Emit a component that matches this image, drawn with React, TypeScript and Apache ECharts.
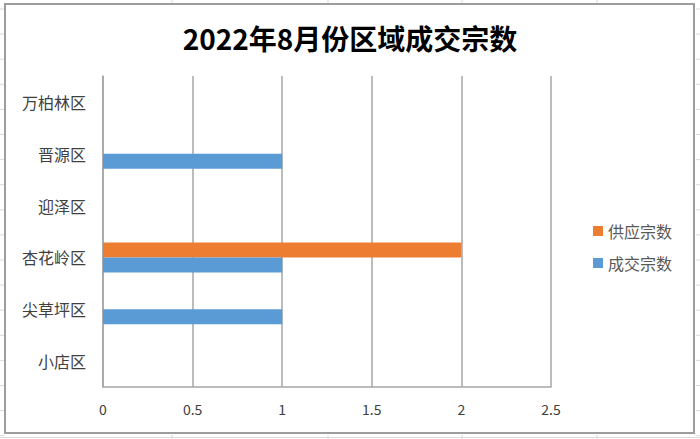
import React, { useEffect, useRef } from 'react';
import * as echarts from 'echarts';

// Categories from bottom to top (as ECharts draws a category y axis)
const districts = ['小店区', '尖草坪区', '杏花岭区', '迎泽区', '晋源区', '万柏林区'];
const supplyCounts = [null, null, 2, null, null, null]; // 供应宗数
const dealCounts = [null, 1, 1, null, 1, null]; // 成交宗数
const seriesNames = ['供应宗数', '成交宗数'];
const chartTitle = '2022年8月份区域成交宗数';

const FONT = '"Noto Sans CJK SC", "Noto Sans", sans-serif';
const GRID_GRAY = '#a6a6a6';
const TEXT_GRAY = '#595959';

// faint spreadsheet cell lines visible round the chart frame
const excelLines = () => {
	const lines: any[] = [];
	for (let k = 0; k < 18; k++) {
		const y = 9 + k * 25.1;
		lines.push({ type: 'line', shape: { x1: 0, y1: y, x2: 4, y2: y }, style: { stroke: '#dadada', lineWidth: 1 }, silent: true });
		lines.push({ type: 'line', shape: { x1: 696, y1: y, x2: 700, y2: y }, style: { stroke: '#dadada', lineWidth: 1 }, silent: true });
	}
	[172, 328, 462, 597].forEach(x => {
		lines.push({ type: 'line', shape: { x1: x, y1: 0, x2: x, y2: 3 }, style: { stroke: '#dadada', lineWidth: 1 }, silent: true });
		lines.push({ type: 'line', shape: { x1: x, y1: 435, x2: x, y2: 439 }, style: { stroke: '#dadada', lineWidth: 1 }, silent: true });
	});
	lines.push({ type: 'line', shape: { x1: 0, y1: 437.5, x2: 700, y2: 437.5 }, style: { stroke: '#dadada', lineWidth: 1 }, silent: true });
	return lines;
};

const App: React.FC = () => {
	const chartRef = useRef<HTMLDivElement>(null);

	useEffect(() => {
		if (!chartRef.current) return;
		const chart = echarts.init(chartRef.current, undefined, { renderer: 'svg' });

		const option: echarts.EChartsOption = {
			animation: false,
			backgroundColor: '#ffffff',
			title: {
				text: chartTitle,
				left: 'center',
				top: 19,
				textStyle: {
					color: '#000',
					fontSize: 28,
					fontWeight: 'bold',
					fontFamily: FONT
				}
			},
			legend: {
				orient: 'vertical',
				left: 588,
				top: 218,
				itemWidth: 10,
				itemHeight: 10,
				itemGap: 16,
				icon: 'rect',
				textStyle: { color: TEXT_GRAY, fontSize: 16, fontFamily: FONT },
				data: seriesNames
			},
			grid: {
				left: 103,
				right: 149,
				top: 76,
				bottom: 52,
				containLabel: false
			},
			xAxis: {
				type: 'value',
				min: 0,
				max: 2.5,
				interval: 0.5,
				axisLine: { show: true, lineStyle: { color: GRID_GRAY, width: 1.5 } },
				axisTick: { show: false },
				axisLabel: { color: '#404040', fontSize: 14, fontFamily: FONT, margin: 15 },
				splitLine: { show: true, lineStyle: { color: GRID_GRAY, width: 1.5 } }
			},
			yAxis: {
				type: 'category',
				data: districts,
				axisLine: { show: true, lineStyle: { color: GRID_GRAY, width: 1.5 } },
				axisTick: { show: false },
				axisLabel: { color: '#404040', fontSize: 16, fontFamily: FONT, margin: 17 }
			},
			series: [
				{
					name: seriesNames[0],
					type: 'bar',
					data: supplyCounts,
					barWidth: 15,
					barGap: '0%',
					itemStyle: { color: '#ed7d31' }
				},
				{
					name: seriesNames[1],
					type: 'bar',
					data: dealCounts,
					barWidth: 15,
					barGap: '0%',
					itemStyle: { color: '#5b9bd5' }
				}
			],
			graphic: [
				...excelLines(),
				{
					type: 'rect',
					shape: { x: 5, y: 4, width: 689, height: 429 },
					style: { fill: 'none', stroke: '#9d9d9d', lineWidth: 2 },
					silent: true
				}
			]
		};

		chart.setOption(option);

		return () => {
			chart.dispose();
		};
	}, []);

	return <div ref={chartRef} style={{ position: 'absolute', left: 0, top: 0, width: '700px', height: '439px' }} />;
};

export default App;
